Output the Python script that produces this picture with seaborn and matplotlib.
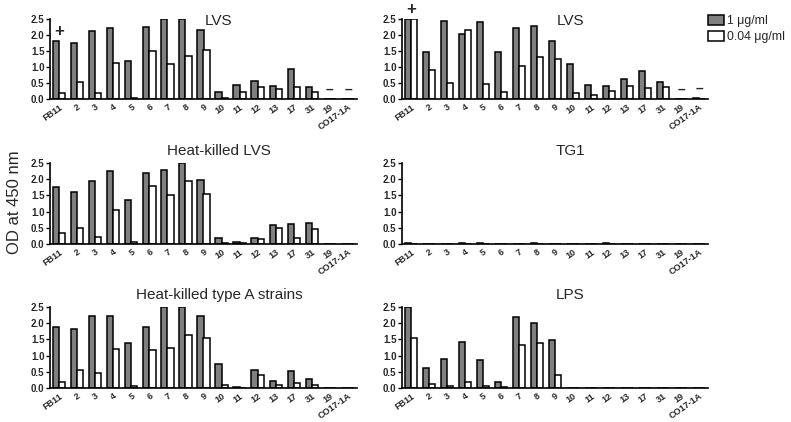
"""ELISA reactivity of mAbs against Francisella antigens — 3x2 grouped bar panels."""

import matplotlib
matplotlib.use("Agg")
import matplotlib.pyplot as plt
from matplotlib.patches import Patch
import seaborn as sns
import pandas as pd

STRAINS = ["FB11", "2", "3", "4", "5", "6", "7", "8", "9", "10",
           "11", "12", "13", "17", "31", "19", "CO17-1A"]
DOSES   = ["1 \u03bcg/ml", "0.04 \u03bcg/ml"]
PALETTE = {DOSES[0]: "#808080", DOSES[1]: "#FFFFFF"}

# OD450 readings, one list per panel and dose
lvs_a_hi = [1.81, 1.74, 2.14, 2.22, 1.20, 2.26, 2.50, 2.50, 2.16, 0.22, 0.44, 0.55, 0.40, 0.94, 0.36, 0.00, 0.00]
lvs_a_lo = [0.18, 0.53, 0.18, 1.11, 0.04, 1.50, 1.08, 1.34, 1.53, 0.04, 0.22, 0.39, 0.32, 0.38, 0.23, 0.00, 0.00]

lvs_b_hi = [2.50, 1.47, 2.44, 2.04, 2.41, 1.47, 2.22, 2.28, 1.80, 1.10, 0.44, 0.42, 0.64, 0.89, 0.54, 0.00, 0.02]
lvs_b_lo = [2.50, 0.91, 0.49, 2.16, 0.47, 0.23, 1.02, 1.31, 1.26, 0.18, 0.13, 0.25, 0.42, 0.34, 0.39, 0.00, 0.00]

hk_lvs_hi = [1.75, 1.60, 1.93, 2.25, 1.37, 2.20, 2.28, 2.50, 1.98, 0.20, 0.07, 0.20, 0.60, 0.62, 0.65, 0.00, 0.00]
hk_lvs_lo = [0.33, 0.48, 0.22, 1.05, 0.06, 1.80, 1.50, 1.93, 1.55, 0.04, 0.02, 0.14, 0.50, 0.18, 0.45, 0.00, 0.00]

tg1_hi = [0.02, 0.01, 0.01, 0.03, 0.03, 0.01, 0.01, 0.03, 0.01, 0.01, 0.01, 0.02, 0.01, 0.01, 0.01, 0.01, 0.01]
tg1_lo = [0.01, 0.01, 0.01, 0.01, 0.01, 0.01, 0.01, 0.01, 0.01, 0.01, 0.01, 0.01, 0.01, 0.01, 0.01, 0.01, 0.01]

hk_a_hi = [1.87, 1.82, 2.23, 2.22, 1.40, 1.88, 2.50, 2.50, 2.22, 0.75, 0.04, 0.55, 0.22, 0.52, 0.27, 0.01, 0.01]
hk_a_lo = [0.20, 0.55, 0.47, 1.20, 0.06, 1.18, 1.22, 1.63, 1.55, 0.08, 0.01, 0.40, 0.10, 0.15, 0.10, 0.00, 0.00]

lps_hi = [2.50, 0.62, 0.88, 1.42, 0.86, 0.20, 2.18, 2.00, 1.47, 0.01, 0.01, 0.01, 0.01, 0.01, 0.01, 0.01, 0.01]
lps_lo = [1.54, 0.11, 0.05, 0.19, 0.05, 0.04, 1.33, 1.38, 0.40, 0.00, 0.00, 0.00, 0.00, 0.00, 0.00, 0.00, 0.00]

# symbols printed above some strains (top row only)
marks_top = {"FB11": "+", "19": "\u2013", "CO17-1A": "\u2013"}

PANELS = [
    ("LVS",                        lvs_a_hi,  lvs_a_lo,  marks_top),
    ("LVS",                        lvs_b_hi,  lvs_b_lo,  marks_top),
    ("Heat-killed LVS",            hk_lvs_hi, hk_lvs_lo, {}),
    ("TG1",                        tg1_hi,    tg1_lo,    {}),
    ("Heat-killed type A strains", hk_a_hi,   hk_a_lo,   {}),
    ("LPS",                        lps_hi,    lps_lo,    {}),
]

W, H = 791, 422
COLS_PX = [(50, 307), (402, 306)]             # left, width
ROWS_PX = [(19, 99), (163, 244), (307, 388)]  # top, bottom
TITLE_Y = [0.925, 1.10, 1.10]

sns.set_style("ticks")
plt.rcParams["font.family"] = ["Liberation Sans", "DejaVu Sans"]

fig = plt.figure(figsize=(W / 100, H / 100), dpi=100, facecolor="white")

for i, (title, hi, lo, marks) in enumerate(PANELS):
    r, c = divmod(i, 2)
    left, width = COLS_PX[c]
    top, bottom = ROWS_PX[r]
    ax = fig.add_axes([left / W, 1 - bottom / H, width / W, (bottom - top) / H])

    df = pd.DataFrame({
        "strain": STRAINS * 2,
        "dose":   [DOSES[0]] * len(STRAINS) + [DOSES[1]] * len(STRAINS),
        "od":     hi + lo,
    })
    sns.barplot(
        data=df, x="strain", y="od", hue="dose", order=STRAINS, hue_order=DOSES,
        palette=PALETTE, edgecolor="black", linewidth=1.1, width=0.69, gap=0,
        errorbar=None, legend=False, ax=ax,
    )

    ax.set_xlim(-0.5, len(STRAINS) - 0.5)
    ax.set_ylim(0, 2.5)
    ax.set_yticks([0, 0.5, 1.0, 1.5, 2.0, 2.5])
    ax.set_yticklabels([f"{v:.1f}" for v in ax.get_yticks()],
                       fontsize=7, fontweight="bold")
    ax.set_xticks(range(len(STRAINS)))
    ax.set_xticklabels(STRAINS, rotation=35, ha="right", rotation_mode="anchor",
                       fontsize=6.5, fontweight="bold")
    ax.tick_params(axis="x", length=0, pad=2.5)
    ax.tick_params(axis="y", length=3, width=1, pad=1, color="black")
    ax.set_xlabel("")
    ax.set_ylabel("")
    sns.despine(ax=ax)
    for side in ("left", "bottom"):
        ax.spines[side].set_linewidth(1.2)
        ax.spines[side].set_color("black")

    ax.text(0.55, TITLE_Y[r], title, transform=ax.transAxes,
            ha="center", va="baseline", fontsize=11)

    for strain, sym in marks.items():
        k = STRAINS.index(strain)
        ax.text(k, max(hi[k], lo[k]) + 0.3, sym, ha="center", va="center",
                fontsize=12 if sym == "+" else 10, fontweight="bold", clip_on=False)

fig.text(15 / W, 0.52, "OD at 450 nm", rotation=90, ha="center", va="center",
         fontsize=12)

handles = [Patch(facecolor=PALETTE[d], edgecolor="black", linewidth=1.1) for d in DOSES]
fig.legend(handles, DOSES, loc="upper left", bbox_to_anchor=(708 / W, 1 - 15 / H),
           frameon=False, fontsize=8.8, handlelength=1.3, handleheight=0.9,
           handletextpad=0.25, labelspacing=0.3, borderpad=0, borderaxespad=0)

fig.savefig("out.png", dpi=100, facecolor="white")
